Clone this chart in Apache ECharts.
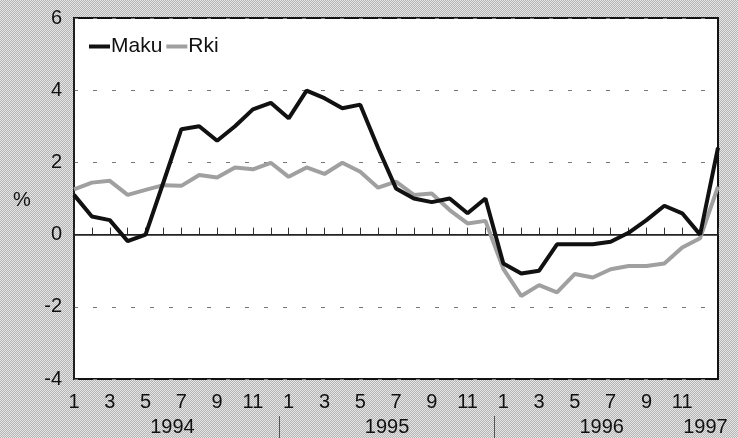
<!DOCTYPE html>
<html>
<head>
<meta charset="utf-8">
<script src="https://cdn.jsdelivr.net/npm/echarts@6/dist/echarts.min.js"></script>
<style>
  html, body { margin: 0; padding: 0; }
  body {
    width: 738px; height: 438px;
    background: repeating-conic-gradient(#b4b4b4 0 25%, #e6e6e6 0 50%) 0 0 / 2px 2px;
  }
  #myChart { width: 738px; height: 438px; }
</style>
</head>
<body>
<div id="myChart"></div>
<script>
// months 1994-1 .. 1997-1
var months = [];
var years = ['1994', '1995', '1996'];
years.forEach(function (y) {
  for (var m = 1; m <= 12; m++) months.push(y + '-' + m);
});
months.push('1997-1');

var maku = [1.1, 0.5, 0.4, -0.18, 0.0, 1.45, 2.92, 3.0, 2.6, 3.0, 3.47, 3.65,
            3.22, 3.99, 3.78, 3.5, 3.6, 2.4, 1.28, 1.0, 0.9, 1.0, 0.59, 1.0,
            -0.8, -1.08, -1.0, -0.27, -0.27, -0.27, -0.2, 0.05, 0.4, 0.8, 0.59, 0.0,
            2.41];
var rki = [1.25, 1.44, 1.49, 1.1, 1.24, 1.37, 1.35, 1.65, 1.58, 1.86, 1.81, 1.99,
           1.6, 1.86, 1.68, 1.99, 1.74, 1.3, 1.47, 1.1, 1.14, 0.68, 0.31, 0.38,
           -0.95, -1.7, -1.4, -1.6, -1.09, -1.19, -0.96, -0.87, -0.87, -0.8, -0.36, -0.1,
           1.33];

// year labels sit in the middle of each year, 1997 at the last month
var yearLabelPos = [5.5, 17.5, 29.5, 35.3];
var yearLabels = ['1994', '1995', '1996', '1997'];
var yearSeparators = [11.5, 23.5];

var font = 'Liberation Sans';

var myChart = echarts.init(document.getElementById('myChart'));
myChart.setOption({
  backgroundColor: 'transparent',
  animation: false,
  textStyle: { fontFamily: font },
  legend: {
    left: 84,
    top: 31,
    icon: 'rect',
    itemWidth: 21,
    itemHeight: 4,
    itemGap: 4,
    textStyle: { fontSize: 21, color: '#111', fontFamily: font, padding: [0, 0, 0, -4] },
    data: ['Maku', 'Rki']
  },
  graphic: [{
    type: 'text',
    left: 13,
    top: 190,
    style: { text: '%', fontSize: 20, fontFamily: font, fill: '#111' }
  }],
  grid: {
    left: 74,
    right: 20,
    top: 18,
    bottom: 59,
    show: true,
    backgroundColor: '#fff',
    borderColor: '#111',
    borderWidth: 2
  },
  xAxis: [
    {
      type: 'category',
      boundaryGap: false,
      data: months,
      axisLine: { lineStyle: { color: '#222', width: 1.5 } },
      axisTick: { inside: true, length: 7, interval: 0, lineStyle: { color: '#333' } },
      axisLabel: {
        interval: 0,
        margin: 13,
        fontSize: 20,
        color: '#111',
        fontFamily: font,
        formatter: function (v, i) {
          var m = +v.split('-')[1];
          if (i === months.length - 1) return '';
          return m % 2 === 1 ? String(m) : '';
        }
      },
      splitLine: { show: false }
    },
    {
      type: 'value',
      position: 'bottom',
      offset: 37,
      min: 0,
      max: months.length - 1,
      axisLine: { show: false },
      axisTick: {
        show: true,
        length: 24,
        customValues: yearSeparators,
        lineStyle: { color: '#555' }
      },
      axisLabel: {
        margin: 1,
        fontSize: 20,
        color: '#111',
        fontFamily: font,
        customValues: yearLabelPos,
        formatter: function (v) {
          var k = yearLabelPos.indexOf(v);
          return k >= 0 ? yearLabels[k] : '';
        }
      },
      splitLine: { show: false }
    }
  ],
  yAxis: {
    type: 'value',
    min: -4,
    max: 6,
    interval: 2,
    axisLine: { show: true, lineStyle: { color: '#222', width: 1.5 } },
    axisTick: { show: false },
    axisLabel: { margin: 12, fontSize: 20, color: '#111', fontFamily: font },
    splitLine: { lineStyle: { type: [4, 15], color: '#777', width: 1 } }
  },
  series: [
    {
      name: 'Rki',
      type: 'line',
      data: rki,
      symbol: 'none',
      itemStyle: { color: '#a0a0a0' },
      lineStyle: { color: '#a0a0a0', width: 4 },
      z: 2
    },
    {
      name: 'Maku',
      type: 'line',
      data: maku,
      symbol: 'none',
      itemStyle: { color: '#111' },
      lineStyle: { color: '#111', width: 4 },
      z: 3,
      markLine: {
        silent: true,
        symbol: 'none',
        label: { show: false },
        lineStyle: { color: '#222', type: 'solid', width: 1.2 },
        data: [{ yAxis: 0 }],
        z: 1
      }
    }
  ]
});
</script>
</body>
</html>
